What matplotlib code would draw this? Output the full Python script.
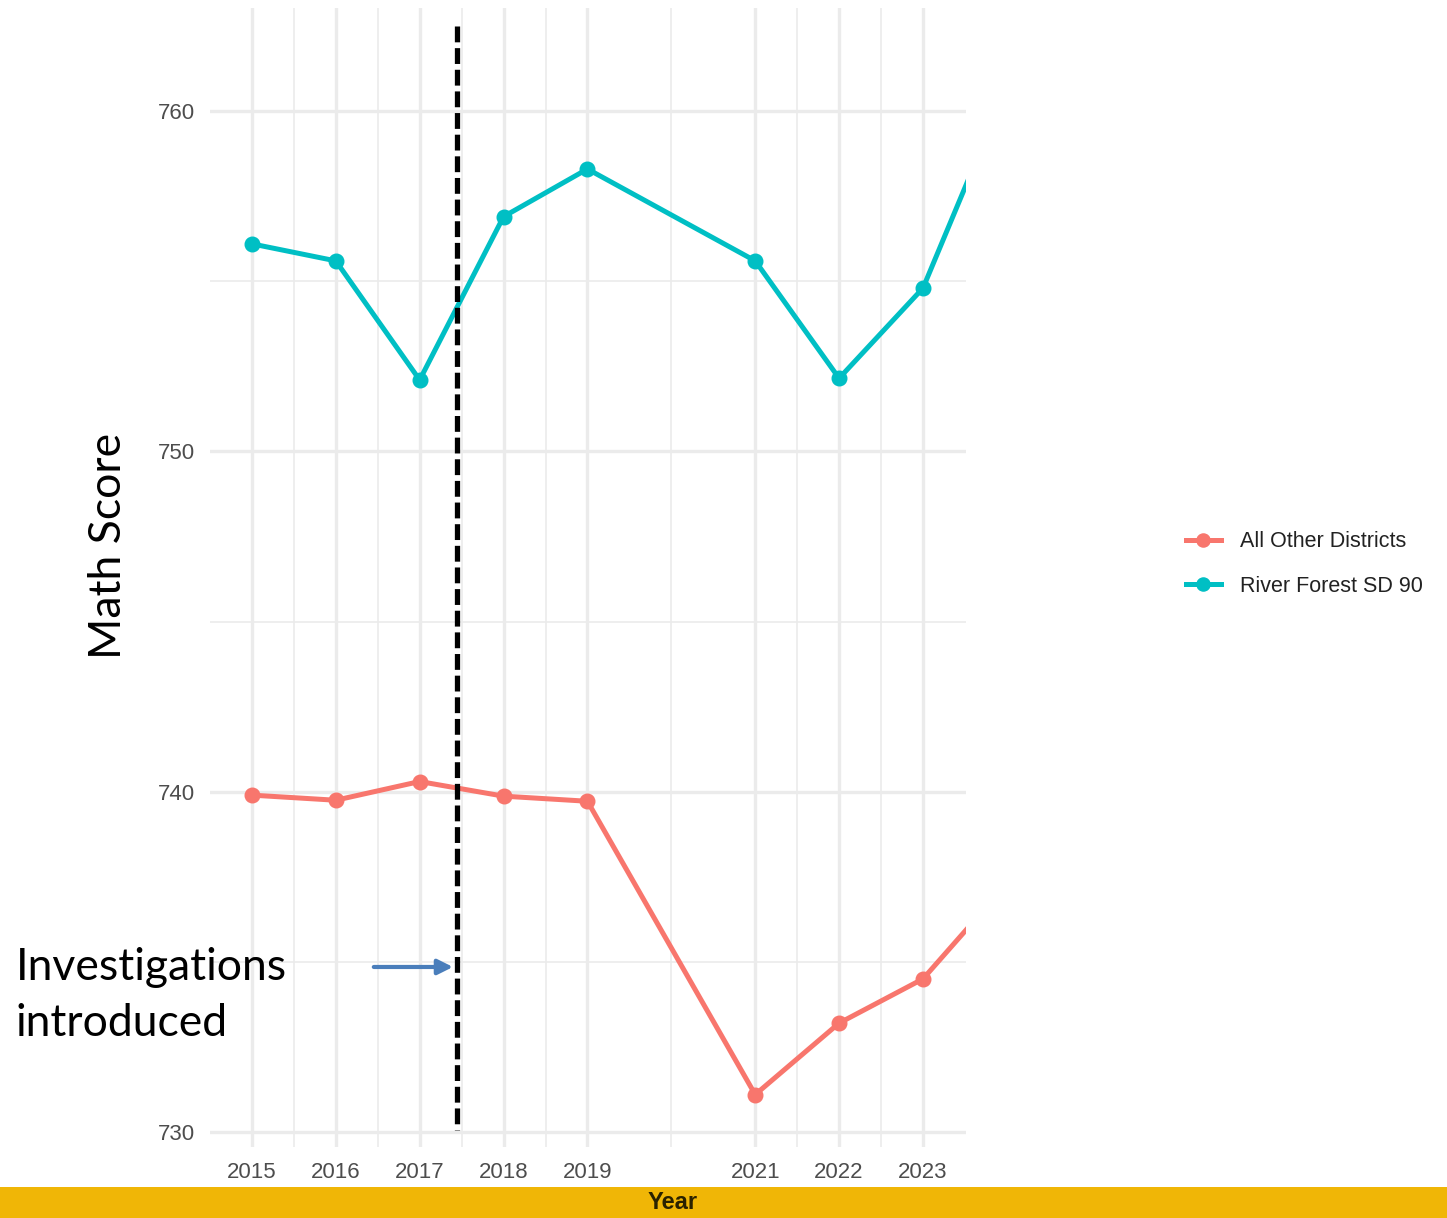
import matplotlib
matplotlib.use("Agg")
import matplotlib.pyplot as plt
from matplotlib.patches import Rectangle

# ---- data -------------------------------------------------------------------
years = [2015, 2016, 2017, 2018, 2019, 2021, 2022, 2023, 2024]
tick_years = [2015, 2016, 2017, 2018, 2019, 2021, 2022, 2023]
river_forest = [756.1, 755.6, 752.1, 756.9, 758.3, 755.6, 752.15, 754.8, 760.7]
other_districts = [739.9, 739.75, 740.3, 739.87, 739.72, 731.1, 733.2, 734.5, 737.3]
y_ticks = [730, 740, 750, 760]
investigation_year = 2017.45

RED = "#F8766D"
CYAN = "#00BFC4"
GRID = "#EBEBEB"

fig = plt.figure(figsize=(14.47, 12.18), dpi=100)
ax = fig.add_axes([0.1451, 0.0583, 0.5225, 0.9351])

ax.plot(years, other_districts, "-o", color=RED, lw=3.6, ms=10.5,
        label="All Other Districts", zorder=3)
ax.plot(years, river_forest, "-o", color=CYAN, lw=3.6, ms=10.5,
        label="River Forest SD 90", zorder=3)

ax.set_xlim(2014.50, 2023.513)
ax.set_ylim(729.56, 763.03)
ax.set_xticks(tick_years)
ax.set_xticklabels([str(y) for y in tick_years])
ax.set_xticks([2015.5, 2016.5, 2017.5, 2018.5, 2020, 2021.5, 2022.5], minor=True)
ax.set_yticks(y_ticks)
ax.set_yticks([735, 745, 755], minor=True)

ax.grid(True, which="major", color=GRID, lw=2.4, zorder=0)
ax.grid(True, which="minor", color=GRID, lw=1.2, zorder=0)
for s in ax.spines.values():
    s.set_visible(False)
ax.tick_params(which="both", length=0)
ax.tick_params(axis="x", labelsize=16, labelcolor="#4D4D4D", pad=11)
ax.tick_params(axis="y", labelsize=16, labelcolor="#4D4D4D", pad=11)
for lab in ax.get_xticklabels() + ax.get_yticklabels():
    lab.set_family("Liberation Sans")

# dashed marker for when investigations started
ax.plot([investigation_year, investigation_year], [762.5, 730.05],
        color="black", lw=3.8, dashes=(3, 1.1), zorder=4)

# legend
leg = fig.legend(loc="center left", bbox_to_anchor=(0.806, 0.537), frameon=False,
                 handlelength=1.63, handletextpad=0.9, labelspacing=1.1,
                 markerscale=0.9, prop={"family": "Liberation Sans", "size": 15.5})
for t in leg.get_texts():
    t.set_color("#222222")

# slide annotations
fig.text(0.075, 0.5517, "Math Score", rotation=90, ha="center", va="center",
         fontsize=32, family="Lato", color="black")
fig.text(0.011, 0.183, "Investigations\nintroduced", ha="left", va="center",
         fontsize=32, family="Lato", color="black", linespacing=1.45)
ax.annotate("", xy=(investigation_year - 0.02, 734.85), xytext=(2016.42, 734.85),
            arrowprops=dict(arrowstyle="-|>,head_length=0.9,head_width=0.45",
                            color="#4A7EBB", lw=3), zorder=5)

# yellow band at the bottom with the axis title
fig.patches.append(Rectangle((0, 0), 1, 0.0255, transform=fig.transFigure,
                             facecolor="#F0B606", edgecolor="none", zorder=0))
fig.text(0.4645, 0.0125, "Year", ha="center", va="center", fontsize=17,
         family="Liberation Sans", weight="bold", color="#2A2200")

fig.savefig("out.png", dpi=100)
